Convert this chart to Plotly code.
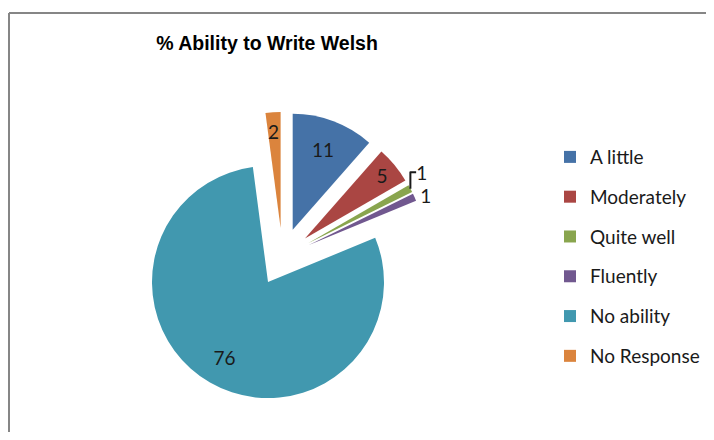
import plotly.graph_objects as go

categories = ["A little", "Moderately", "Quite well", "Fluently", "No ability", "No Response"]
values = [11, 5, 1, 1, 76, 2]
colors = ["#4572A7", "#AA4643", "#89A54E", "#71588F", "#4198AF", "#DB843D"]
text_positions = ["inside", "inside", "outside", "outside", "inside", "inside"]
NB = "\u00a0"
text_templates = ["%{value}", "%{value}", "%{value}", "%{value}",
                  NB + "<br>" + NB + "<br>%{value}" + NB * 6, NB + "<br>%{value}"]
title_text = "% Ability to Write Welsh"

# page body has an 8px margin on every side: figure is drawn 8px right/down in the window
OFF = 8
W, H = 714 - 2 * OFF, 440 - 2 * OFF


def px(x):
    return (x - OFF) / W


def py(y):
    return 1 - (y - OFF) / H


legend_labels = [
    f'<span style="font-size:19px;baseline-shift:4.5px">{c}</span>' for c in categories
]

# pie centre (282.5, 257) window px, radius 116, pull 0.25 -> box half-size 145
cx, cy, half = 282.5, 257, 145

fig = go.Figure(
    go.Pie(
        labels=legend_labels,
        values=values,
        sort=False,
        direction="clockwise",
        rotation=0,
        pull=[0.25] * len(values),
        marker=dict(colors=colors, line=dict(width=0)),
        texttemplate=text_templates,
        textposition=text_positions,
        insidetextorientation="horizontal",
        textfont=dict(family="Lato", size=19, color="#1a1a1a"),
        domain=dict(x=[px(cx - half), px(cx + half)], y=[py(cy + half), py(cy - half)]),
        hoverinfo="skip",
    )
)

fig.update_layout(
    width=W,
    height=H,
    margin=dict(l=0, r=0, t=0, b=0, autoexpand=False),
    paper_bgcolor="white",
    plot_bgcolor="white",
    title=dict(
        text=f"<b>{title_text}</b>",
        font=dict(family="Liberation Sans", size=19.5, color="#000000"),
        x=px(267),
        xanchor="center",
        xref="container",
        y=py(43),
        yanchor="middle",
        yref="container",
    ),
    legend=dict(
        x=px(550),
        xanchor="left",
        y=py(132),
        yanchor="top",
        font=dict(family="Lato", size=28.3, color="#1a1a1a"),
        bgcolor="rgba(0,0,0,0)",
    ),
    uniformtext=dict(minsize=19, mode="show"),
    shapes=[
        dict(
            type="line",
            xref="paper",
            yref="paper",
            x0=px(9),
            x1=px(9),
            y0=-0.05,
            y1=py(13),
            line=dict(color="#868686", width=2),
            layer="below",
        ),
        dict(
            type="line",
            xref="paper",
            yref="paper",
            x0=px(9),
            x1=1.05,
            y0=py(13),
            y1=py(13),
            line=dict(color="#868686", width=2),
            layer="below",
        ),
    ],
)

fig.write_html("out.html")
